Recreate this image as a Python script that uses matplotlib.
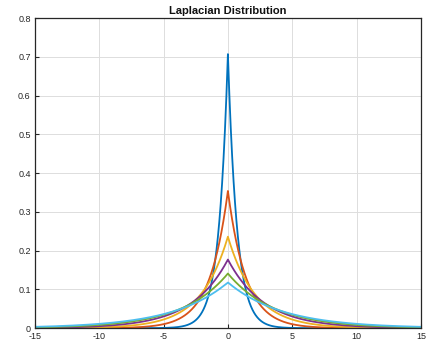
import numpy as np
import matplotlib.pyplot as plt

# peak heights, one per curve (sigma = 1..6)
peaks = [0.707, 0.354, 0.236, 0.177, 0.141, 0.118]
colors = ['#0072BD', '#D95319', '#EDB120', '#7E2F8E', '#77AC30', '#4DBEEE']
xticks = [-15, -10, -5, 0, 5, 10, 15]
yticks = [0, 0.1, 0.2, 0.3, 0.4, 0.5, 0.6, 0.7, 0.8]

plt.rcParams['font.family'] = ['Liberation Sans', 'DejaVu Sans']
plt.rcParams['axes.unicode_minus'] = False
fig = plt.figure(figsize=(4.3, 3.48), dpi=100)
ax = fig.add_axes([0.081, 0.057, 0.898, 0.891])

x = np.linspace(-15, 15, 3001)
for p, c in zip(peaks, colors):
    b = 1.0 / (2 * p)
    ax.plot(x, np.exp(-np.abs(x) / b) / (2 * b), color=c, lw=1.3)

ax.set_xlim(-15, 15)
ax.set_ylim(0, 0.8)
ax.set_xticks(xticks)
ax.set_yticks(yticks)
ax.set_yticklabels(['0', '0.1', '0.2', '0.3', '0.4', '0.5', '0.6', '0.7', '0.8'])
ax.grid(True, color='#dddddd', lw=0.7)
ax.set_axisbelow(True)
ax.tick_params(direction='in', length=3, labelsize=6.5, colors='#262626', pad=3)
for s in ax.spines.values():
    s.set_color('#262626')
    s.set_linewidth(0.9)
ax.set_title('Laplacian Distribution', fontsize=8, fontweight='bold', pad=3, color='#111111')

fig.savefig('out.png', dpi=100)
